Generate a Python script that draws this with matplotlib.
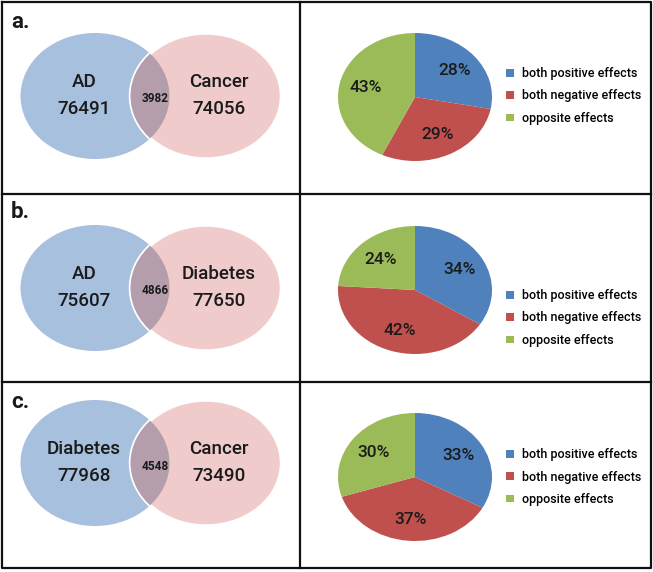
import matplotlib
matplotlib.use('Agg')
import matplotlib.pyplot as plt
from matplotlib.patches import Ellipse

plt.rcParams['font.family'] = ['Roboto', 'DejaVu Sans']

W, H = 653, 572

# data
panel_tags = ['a.', 'b.', 'c.']
left_sets = ['AD', 'AD', 'Diabetes']
right_sets = ['Cancer', 'Diabetes', 'Cancer']
left_counts = [76491, 75607, 77968]
right_counts = [74056, 77650, 73490]
shared_counts = [3982, 4866, 4548]
both_pos = [28, 34, 33]
both_neg = [29, 42, 37]
opposite = [43, 24, 30]
effect_labels = ['both positive effects', 'both negative effects', 'opposite effects']
effect_colors = ['#4f81bd', '#c0504d', '#9bbb59']

# layout in pixels
venn_mid = [96, 288, 463]
pie_mid = [97, 290, 477]
legend_mid = [96, 318, 477]
tag_y = [22, 212, 402]

fig = plt.figure(figsize=(W / 100, H / 100), dpi=100)
bg = fig.add_axes([0, 0, 1, 1])
bg.set_xlim(0, W)
bg.set_ylim(H, 0)
bg.axis('off')

# boxes
bg.plot([2, 651, 651, 2, 2], [2, 2, 568, 568, 2], color='#111111', lw=1.6)
bg.plot([300, 300], [2, 568], color='#111111', lw=1.6)
bg.plot([2, 651], [194, 194], color='#111111', lw=1.6)
bg.plot([2, 651], [382, 382], color='#111111', lw=1.6)

txt = '#1a1a1a'
for i in range(3):
    yc = venn_mid[i]
    left = Ellipse((95, yc), 149, 126, fc='#a7c0de', ec='none')
    right = Ellipse((206, yc), 151, 126, fc='#f0cbcb', ec='white', lw=2.5)
    inter = Ellipse((95, yc), 149, 126, fc='#b49eac', ec='none')
    bg.add_patch(left)
    bg.add_patch(right)
    bg.add_patch(inter)
    inter.set_clip_path(right)

    bg.text(11, tag_y[i], panel_tags[i], fontsize=16, fontweight='bold', color=txt,
            ha='left', va='center')
    bg.text(84, yc - 14, left_sets[i], fontsize=13.5, fontweight='medium', color=txt,
            ha='center', va='center')
    bg.text(84, yc + 13, str(left_counts[i]), fontsize=13.5, fontweight='medium', color=txt,
            ha='center', va='center')
    bg.text(219, yc - 14, right_sets[i], fontsize=13.5, fontweight='medium', color=txt,
            ha='center', va='center')
    bg.text(219, yc + 13, str(right_counts[i]), fontsize=13.5, fontweight='medium', color=txt,
            ha='center', va='center')
    bg.text(155, yc + 3, str(shared_counts[i]), fontsize=8.5, fontweight='bold', color=txt,
            ha='center', va='center')

    # pie
    pc = pie_mid[i]
    pax = fig.add_axes([338 / W, 1 - (pc + 64) / H, 154 / W, 128 / H])
    vals = [both_pos[i], both_neg[i], opposite[i]]
    wedges, _, autos = pax.pie(vals, colors=effect_colors, startangle=90, counterclock=False,
                               autopct='%.0f%%', pctdistance=0.66,
                               wedgeprops=dict(linewidth=0),
                               textprops=dict(fontsize=12.5, fontweight='medium', color=txt))
    pax.set_aspect('auto')
    pax.set_xlim(-1, 1)
    pax.set_ylim(-1, 1)

    fig.legend(wedges, effect_labels, loc='center left',
               bbox_to_anchor=(506 / W, 1 - legend_mid[i] / H),
               frameon=False, prop=dict(size=9, weight='medium'),
               handlelength=0.6, handleheight=0.6, handletextpad=0.7,
               labelspacing=0.75, borderpad=0, borderaxespad=0)

fig.savefig('out.png', dpi=100)
